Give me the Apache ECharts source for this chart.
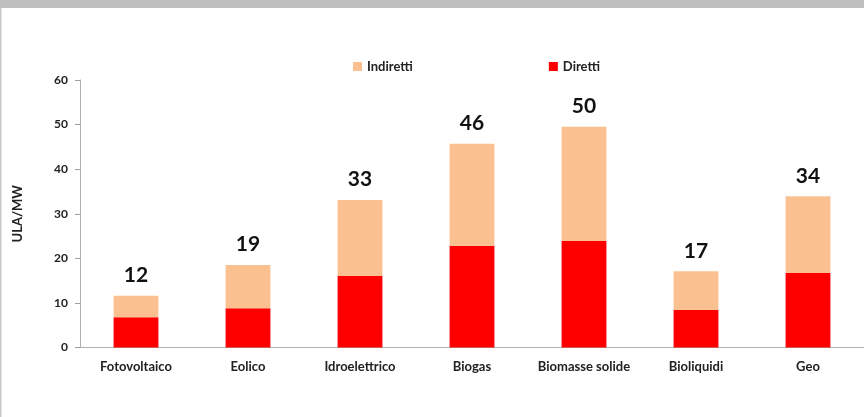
<!DOCTYPE html>
<html>
<head>
<meta charset="utf-8">
<script src="https://cdn.jsdelivr.net/npm/echarts@6/dist/echarts.min.js"></script>
<style>
  html, body { margin: 0; padding: 0; background: #fff; }
  #grafico { width: 864px; height: 417px; }
</style>
</head>
<body>
<div id="grafico"></div>
<script>
var categorie = ['Fotovoltaico', 'Eolico', 'Idroelettrico', 'Biogas', 'Biomasse solide', 'Bioliquidi', 'Geo'];
var diretti = [6.8, 8.8, 16.1, 22.8, 23.9, 8.4, 16.7];
var indiretti = [4.8, 9.7, 17.0, 22.9, 25.6, 8.7, 17.2];
var totali = ['12', '19', '33', '46', '50', '17', '34'];

document.addEventListener('DOMContentLoaded', function () {
    var myChart = echarts.init(document.getElementById('grafico'));
    var font = 'Lato, "Open Sans", sans-serif';

    var option = {
        animation: false,
        textStyle: { fontFamily: font },
        graphic: [
            { type: 'rect', shape: { x: 0, y: 0, width: 864, height: 8 }, style: { fill: '#bfbfbf' } },
            { type: 'rect', shape: { x: 0, y: 8, width: 1.5, height: 409 }, style: { fill: '#c8c8c8' } }
        ],
        legend: {
            data: ['Indiretti', 'Diretti'],
            left: 348,
            top: 55,
            itemWidth: 9,
            itemHeight: 9,
            itemGap: 136,
            icon: 'rect',
            textStyle: { fontFamily: font, fontWeight: 'bold', fontSize: 13, color: '#222' }
        },
        grid: { left: 80, right: 0, top: 80, bottom: 69.5 },
        xAxis: {
            type: 'category',
            data: categorie,
            axisLine: { lineStyle: { color: '#b0b0b0', width: 1 } },
            axisTick: { length: 5, lineStyle: { color: '#a0a0a0' } },
            axisLabel: { interval: 0, fontFamily: font, fontWeight: 'bold', fontSize: 13, color: '#222', margin: 13 }
        },
        yAxis: {
            type: 'value',
            min: 0,
            max: 60,
            interval: 10,
            name: 'ULA/MW',
            nameLocation: 'middle',
            nameGap: 56,
            nameTextStyle: { fontFamily: font, fontWeight: 'bold', fontSize: 13, color: '#222' },
            splitLine: { show: false },
            axisLine: { show: true, lineStyle: { color: '#b0b0b0' } },
            axisTick: { show: true, length: 5, lineStyle: { color: '#a0a0a0' } },
            axisLabel: { fontFamily: font, fontWeight: 'bold', fontSize: 12, color: '#222', margin: 12 }
        },
        series: [
            {
                name: 'Diretti',
                type: 'bar',
                stack: 'ula',
                barWidth: '40%',
                data: diretti,
                itemStyle: { color: '#ff0000' }
            },
            {
                name: 'Indiretti',
                type: 'bar',
                stack: 'ula',
                barWidth: '40%',
                data: indiretti,
                itemStyle: { color: '#fac090' },
                label: {
                    show: true,
                    position: 'top',
                    distance: 10,
                    formatter: function (p) { return totali[p.dataIndex]; },
                    fontFamily: font,
                    fontWeight: 'bold',
                    fontSize: 21,
                    color: '#111'
                }
            }
        ]
    };

    myChart.setOption(option);

    window.addEventListener('resize', function () {
        myChart.resize();
    });
});
</script>
</body>
</html>
